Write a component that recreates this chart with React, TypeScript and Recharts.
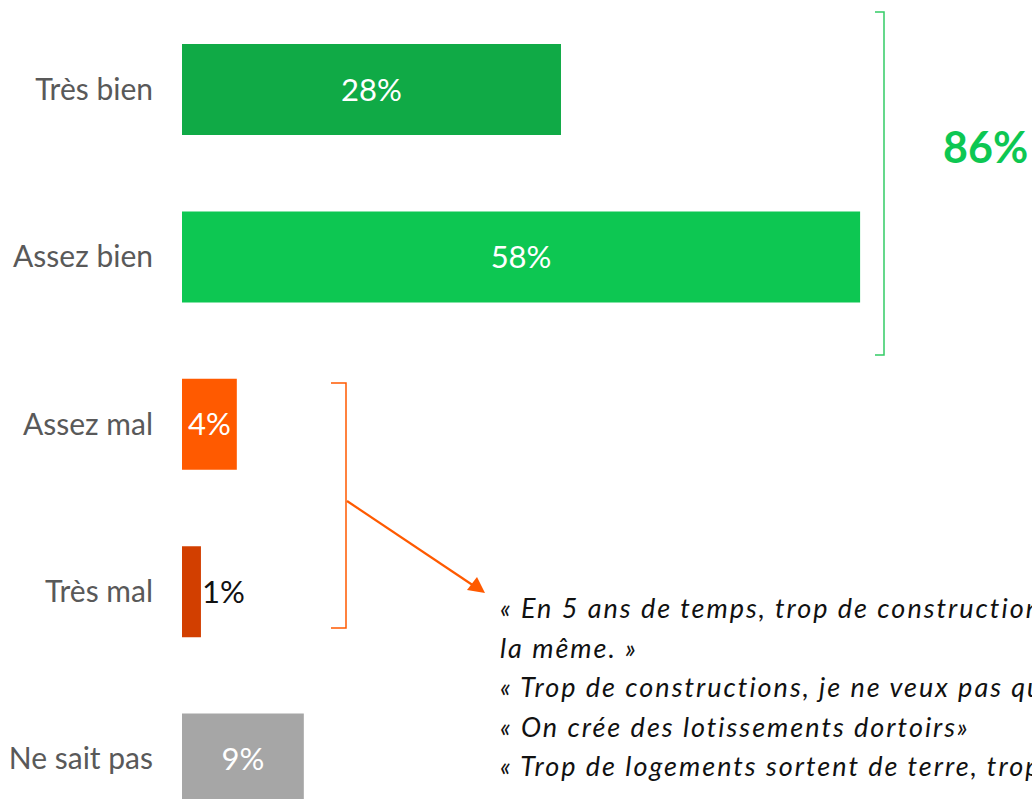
import React from "react";
import { BarChart, Bar, XAxis, YAxis, Cell, LabelList } from "recharts";

const categories = ["Très bien", "Assez bien", "Assez mal", "Très mal", "Ne sait pas"];
const percentLabels = [28, 58, 4, 1, 9];
const barLengths = [28, 50.1, 4.05, 1.4, 9];
const barColors = ["#10AA46", "#0DC752", "#FF5A00", "#D23F00", "#A6A6A6"];
const totalPositive = "86%";
const quotes = [
  "« En 5 ans de temps, trop de constructions",
  "la même. »",
  "« Trop de constructions, je ne veux pas que",
  "« On crée des lotissements dortoirs»",
  "« Trop de logements sortent de terre, trop",
];

const data = categories.map((c, i) => ({
  name: c,
  value: barLengths[i],
  label: percentLabels[i] + "%",
}));

const FONT = "Lato, 'Open Sans', sans-serif";

const CategoryTick = (props: any) => {
  const { y, payload } = props;
  return (
    <text
      x={153}
      y={y}
      dy={10}
      textAnchor="end"
      fill="#595959"
      fontSize={30}
      fontFamily={FONT}
    >
      {payload.value}
    </text>
  );
};

const ValueLabel = (props: any) => {
  const { x, y, width, height, index } = props;
  const text = data[index].label;
  if (index === 3) {
    return (
      <text
        x={x + width + 1}
        y={y + height / 2 + 11}
        textAnchor="start"
        fill="#111111"
        fontSize={31}
        fontFamily={FONT}
      >
        {text}
      </text>
    );
  }
  return (
    <text
      x={x + width / 2}
      y={y + height / 2 + 11}
      textAnchor="middle"
      fill="#FFFFFF"
      fontSize={31}
      fontFamily={FONT}
    >
      {text}
    </text>
  );
};

export default function App() {
  return (
    <div style={{ position: "absolute", left: 0, top: 0, width: 1032, height: 799, overflow: "hidden", background: "#fff" }}>
      <BarChart
        width={1032}
        height={845}
        data={data}
        layout="vertical"
        margin={{ top: 6, right: 0, bottom: 2, left: 0 }}
      >
        <XAxis type="number" hide domain={[0, 62.8]} />
        <YAxis
          type="category"
          dataKey="name"
          width={182}
          axisLine={false}
          tickLine={false}
          tick={<CategoryTick />}
        />
        <Bar dataKey="value" barSize={91} isAnimationActive={false}>
          {data.map((d, i) => (
            <Cell key={d.name} fill={barColors[i]} />
          ))}
          <LabelList dataKey="label" content={<ValueLabel />} />
        </Bar>
      </BarChart>
      <svg
        width={1032}
        height={799}
        style={{ position: "absolute", left: 0, top: 0, pointerEvents: "none" }}
      >
        <path d="M875,12 L884,12 L884,355 L875,355" fill="none" stroke="#33CC66" strokeWidth={1.5} />
        <text x={943} y={163} fill="#0DC752" fontSize={43} fontWeight={700} fontFamily={FONT}>
          {totalPositive}
        </text>
        <path d="M331,383 L346,383 L346,628 L331,628" fill="none" stroke="#FF5A00" strokeWidth={1.5} />
        <line x1={347} y1={501} x2={480} y2={590} stroke="#FF5A00" strokeWidth={2.2} />
        <path d="M467,590 L485,593 L477,577 z" fill="#FF5A00" />
        {quotes.map((q, i) => (
          <text
            key={i}
            x={500}
            y={618 + i * 39.5}
            fill="#111111"
            fontSize={27}
            letterSpacing={2}
            fontStyle="italic"
            fontFamily={FONT}
          >
            {q}
          </text>
        ))}
      </svg>
    </div>
  );
}
